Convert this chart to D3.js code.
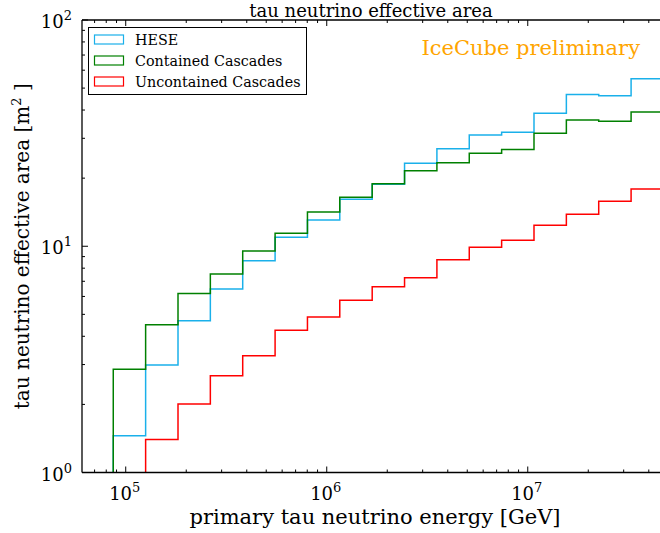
<!DOCTYPE html>
<html>
<head>
<meta charset="utf-8">
<script src="https://cdn.jsdelivr.net/npm/d3@7"></script>
<style>
  body { margin: 0; background: #fff; }
  svg { display: block; font-family: "DejaVu Serif", serif; }
</style>
</head>
<body>
<svg id="chart" width="660" height="533"></svg>
<script>
// bin edges in GeV (log spaced histogram bins)
const binEdges = [8.67e4, 1.256e5, 1.82e5, 2.636e5, 3.819e5, 5.534e5, 8.017e5, 1.161e6, 1.683e6,
  2.438e6, 3.532e6, 5.117e6, 7.413e6, 1.074e7, 1.556e7, 2.254e7, 3.266e7, 4.732e7];

const seriesNames = ["HESE", "Contained Cascades", "Uncontained Cascades"];
const seriesColors = ["#1ab0ea", "#008000", "#ff0000"];

const heseArea = [1.455, 2.99, 4.69, 6.47, 8.63, 10.95, 13.06, 16.13, 18.79, 23.26, 26.98,
  31.0, 31.9, 38.7, 46.9, 46.3, 55.0];
const containedArea = [2.86, 4.50, 6.19, 7.54, 9.53, 11.41, 14.17, 16.46, 18.9, 21.58, 23.4,
  25.75, 26.8, 31.6, 36.1, 35.7, 39.2];
const uncontainedArea = [null, 1.40, 2.01, 2.68, 3.28, 4.25, 4.87, 5.77, 6.63, 7.26, 8.72,
  9.89, 10.62, 12.38, 13.84, 15.8, 17.9];

const xTickPowers = [5, 6, 7];
const yTickPowers = [0, 1, 2];

const svg = d3.select("#chart");
const mLeft = 82, mTop = 20, mBottom = 472.5, mRight = 670;

const x = d3.scaleLog().domain([6.06e4, 5.1e7]).range([mLeft, mRight]);
const y = d3.scaleLog().domain([1, 100]).range([mBottom, mTop]);

svg.append("defs").append("clipPath").attr("id", "clip")
  .append("rect").attr("x", mLeft).attr("y", mTop)
  .attr("width", mRight - mLeft).attr("height", mBottom - mTop);

// step outlines
function stepPath(values) {
  let d = "";
  let started = false;
  values.forEach((v, i) => {
    if (v == null) return;
    const x0 = x(binEdges[i]), x1 = x(binEdges[i + 1]);
    if (!started) {
      d += `M${x0},${mBottom}L${x0},${y(v)}`;
      started = true;
    } else {
      d += `L${x0},${y(v)}`;
    }
    d += `L${x1},${y(v)}`;
  });
  return d;
}

const allSeries = [heseArea, containedArea, uncontainedArea];
const plot = svg.append("g").attr("clip-path", "url(#clip)");
allSeries.forEach((vals, i) => {
  plot.append("path")
    .attr("d", stepPath(vals))
    .attr("fill", "none")
    .attr("stroke", seriesColors[i])
    .attr("stroke-width", 1.5);
});

// axes: inward ticks on every side
const axisG = svg.append("g").attr("stroke", "#000");
axisG.append("line").attr("x1", mLeft).attr("x2", 660).attr("y1", mBottom).attr("y2", mBottom).attr("stroke-width", 1.3);
axisG.append("line").attr("x1", mLeft).attr("x2", 660).attr("y1", mTop).attr("y2", mTop).attr("stroke-width", 1.3);
axisG.append("line").attr("x1", mLeft).attr("x2", mLeft).attr("y1", mTop).attr("y2", mBottom).attr("stroke-width", 1.3);

const xMinor = [];
for (let p = 4; p <= 7; p++) for (let m = 2; m <= 9; m++) {
  const v = m * Math.pow(10, p);
  if (v > x.domain()[0] && v < x.domain()[1]) xMinor.push(v);
}
const yMinor = [];
for (let p = 0; p <= 1; p++) for (let m = 2; m <= 9; m++) yMinor.push(m * Math.pow(10, p));

xMinor.forEach(v => {
  axisG.append("line").attr("x1", x(v)).attr("x2", x(v)).attr("y1", mBottom).attr("y2", mBottom - 3);
  axisG.append("line").attr("x1", x(v)).attr("x2", x(v)).attr("y1", mTop).attr("y2", mTop + 3);
});
xTickPowers.forEach(p => {
  const v = Math.pow(10, p);
  axisG.append("line").attr("x1", x(v)).attr("x2", x(v)).attr("y1", mBottom).attr("y2", mBottom - 6);
  axisG.append("line").attr("x1", x(v)).attr("x2", x(v)).attr("y1", mTop).attr("y2", mTop + 6);
});
yMinor.forEach(v => {
  axisG.append("line").attr("x1", mLeft).attr("x2", mLeft + 3).attr("y1", y(v)).attr("y2", y(v));
});
yTickPowers.forEach(p => {
  const v = Math.pow(10, p);
  axisG.append("line").attr("x1", mLeft).attr("x2", mLeft + 6).attr("y1", y(v)).attr("y2", y(v));
});

// tick labels
xTickPowers.forEach(p => {
  const t = svg.append("text")
    .attr("x", x(Math.pow(10, p)) - 1)
    .attr("y", mBottom + 27)
    .attr("text-anchor", "middle")
    .attr("font-size", 18);
  t.append("tspan").text("10");
  t.append("tspan").attr("dy", -8).attr("font-size", 13).text(p);
});
yTickPowers.forEach(p => {
  const t = svg.append("text")
    .attr("x", 72)
    .attr("y", y(Math.pow(10, p)) + 8)
    .attr("text-anchor", "end")
    .attr("font-size", 18);
  t.append("tspan").text("10");
  t.append("tspan").attr("dy", -8).attr("font-size", 13).text(p);
});

// titles
svg.append("text")
  .attr("x", (mLeft + 660) / 2).attr("y", 17)
  .attr("text-anchor", "middle")
  .attr("font-size", 18)
  .text("tau neutrino effective area");

svg.append("text")
  .attr("x", 375).attr("y", 524)
  .attr("text-anchor", "middle")
  .attr("font-size", 21)
  .text("primary tau neutrino energy [GeV]");

const yl = svg.append("text")
  .attr("transform", `translate(29,${(mTop + mBottom) / 2}) rotate(-90)`)
  .attr("text-anchor", "middle")
  .attr("font-size", 20);
yl.append("tspan").text("tau neutrino effective area [m");
yl.append("tspan").attr("dy", -8).attr("font-size", 13).text("2");
yl.append("tspan").attr("dy", 8).text(" ]");

svg.append("text")
  .attr("x", 640).attr("y", 55)
  .attr("text-anchor", "end")
  .attr("font-size", 21)
  .attr("fill", "#ffa500")
  .text("IceCube preliminary");

// legend
const legend = svg.append("g");
legend.append("rect")
  .attr("x", 88.5).attr("y", 27.5).attr("width", 218).attr("height", 67)
  .attr("fill", "#fff").attr("stroke", "#000").attr("stroke-width", 1);
seriesNames.forEach((name, i) => {
  const ry = 35 + i * 21;
  legend.append("rect")
    .attr("x", 94.5).attr("y", ry).attr("width", 29).attr("height", 9)
    .attr("fill", "none").attr("stroke", seriesColors[i]).attr("stroke-width", 1.2);
  legend.append("text")
    .attr("x", 135).attr("y", ry + 10)
    .attr("font-size", 14.3)
    .text(name);
});
</script>
</body>
</html>
